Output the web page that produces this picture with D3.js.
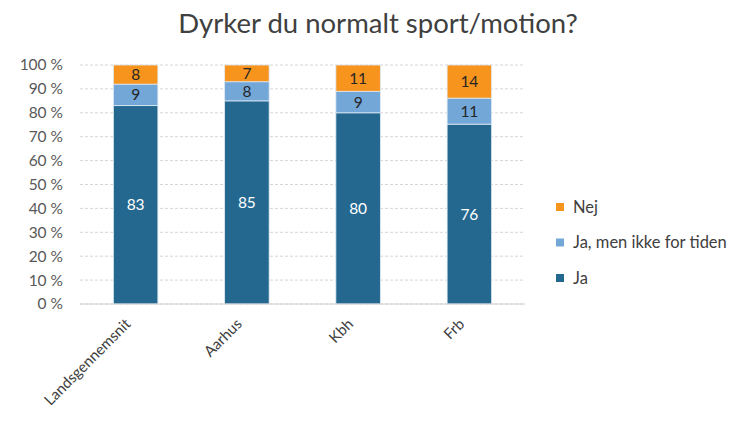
<!DOCTYPE html>
<html><head><meta charset="utf-8">
<script src="https://cdn.jsdelivr.net/npm/d3@7"></script>
<style>body{margin:0;background:#fff}svg{display:block}</style>
</head><body>
<svg id="c" width="740" height="424"></svg>
<script>
const categories = ["Landsgennemsnit","Aarhus","Kbh","Frb"];
const seriesNames = ["Ja","Ja, men ikke for tiden","Nej"];
const ja = [83,85,80,76];
const jaMen = [9,8,9,11];
const nej = [8,7,11,14];
const yTicks = [0,10,20,30,40,50,60,70,80,90,100];
const colors = ["#246890","#72a7d8","#f7941d"];
const labelColors = ["#ffffff","#262626","#262626"];
const font = "Lato, 'Open Sans', sans-serif";

const svg = d3.select("#c");
const m = {l:80, r:215, t:65, b:120};
const W = 740, H = 424;
const x = d3.scaleBand().domain(categories).range([m.l, W-m.r]).paddingInner(0.6).paddingOuter(0.3);
const y = d3.scaleLinear().domain([0,100]).range([H-m.b, m.t]);

const rows = categories.map((c,i)=>({cat:c, "Ja":ja[i], "Ja, men ikke for tiden":jaMen[i], "Nej":nej[i]}));
const stack = d3.stack().keys(seriesNames).offset(d3.stackOffsetExpand);
const layers = stack(rows);

// title
svg.append("text").attr("x",378).attr("y",33).attr("text-anchor","middle")
  .attr("font-family",font).attr("font-size",27.5).attr("fill","#404040")
  .text("Dyrker du normalt sport/motion?");

// gridlines
svg.append("g").selectAll("line").data(yTicks).join("line")
  .attr("x1",m.l).attr("x2",W-m.r).attr("y1",d=>y(d)).attr("y2",d=>y(d))
  .attr("stroke","#d6d6d6").attr("stroke-width",1).attr("stroke-dasharray","3,2");

// y axis labels
const yAxis = d3.axisLeft(y).tickValues(yTicks).tickSize(0).tickPadding(17).tickFormat(d=>d+" %");
const ga = svg.append("g").attr("transform",`translate(${m.l},0)`).call(yAxis);
ga.select(".domain").remove();
ga.selectAll("text").attr("font-family",font).attr("font-size",15.5).attr("fill","#595959");

// bars
layers.forEach((layer,si)=>{
  const g = svg.append("g");
  g.selectAll("rect").data(layer).join("rect")
    .attr("x",d=>x(d.data.cat)).attr("width",x.bandwidth())
    .attr("y",d=>y(d[1]*100)).attr("height",d=>y(d[0]*100)-y(d[1]*100))
    .attr("fill",colors[si]).attr("stroke","#dfe9f3").attr("stroke-width",0.8);
  g.selectAll("text").data(layer).join("text")
    .attr("x",d=>x(d.data.cat)+x.bandwidth()/2)
    .attr("y",d=>(y(d[0]*100)+y(d[1]*100))/2)
    .attr("dy","0.36em").attr("text-anchor","middle")
    .attr("font-family",font).attr("font-size",15.5).attr("fill",labelColors[si])
    .text(d=>d.data[seriesNames[si]]);
});

// x axis
svg.append("line").attr("x1",m.l).attr("x2",W-m.r).attr("y1",y(0)).attr("y2",y(0))
  .attr("stroke","#d0d0d0").attr("stroke-width",1);
svg.append("g").selectAll("text").data(categories).join("text")
  .attr("transform",d=>`translate(${x(d)+x.bandwidth()/2-4},${y(0)+21}) rotate(-45)`)
  .attr("text-anchor","end").attr("font-family",font).attr("font-size",15).attr("fill","#404040")
  .text(d=>d);

// legend
const legendOrder = [2,1,0];
const lg = svg.append("g");
legendOrder.forEach((si,i)=>{
  const ly = 207 + i*35.5;
  lg.append("rect").attr("x",556).attr("y",ly-4).attr("width",8).attr("height",8).attr("fill",colors[si]);
  lg.append("text").attr("x",573).attr("y",ly).attr("dy","0.36em")
    .attr("font-family",font).attr("font-size",16.5).attr("fill","#404040").text(seriesNames[si]);
});
</script>
</body></html>
